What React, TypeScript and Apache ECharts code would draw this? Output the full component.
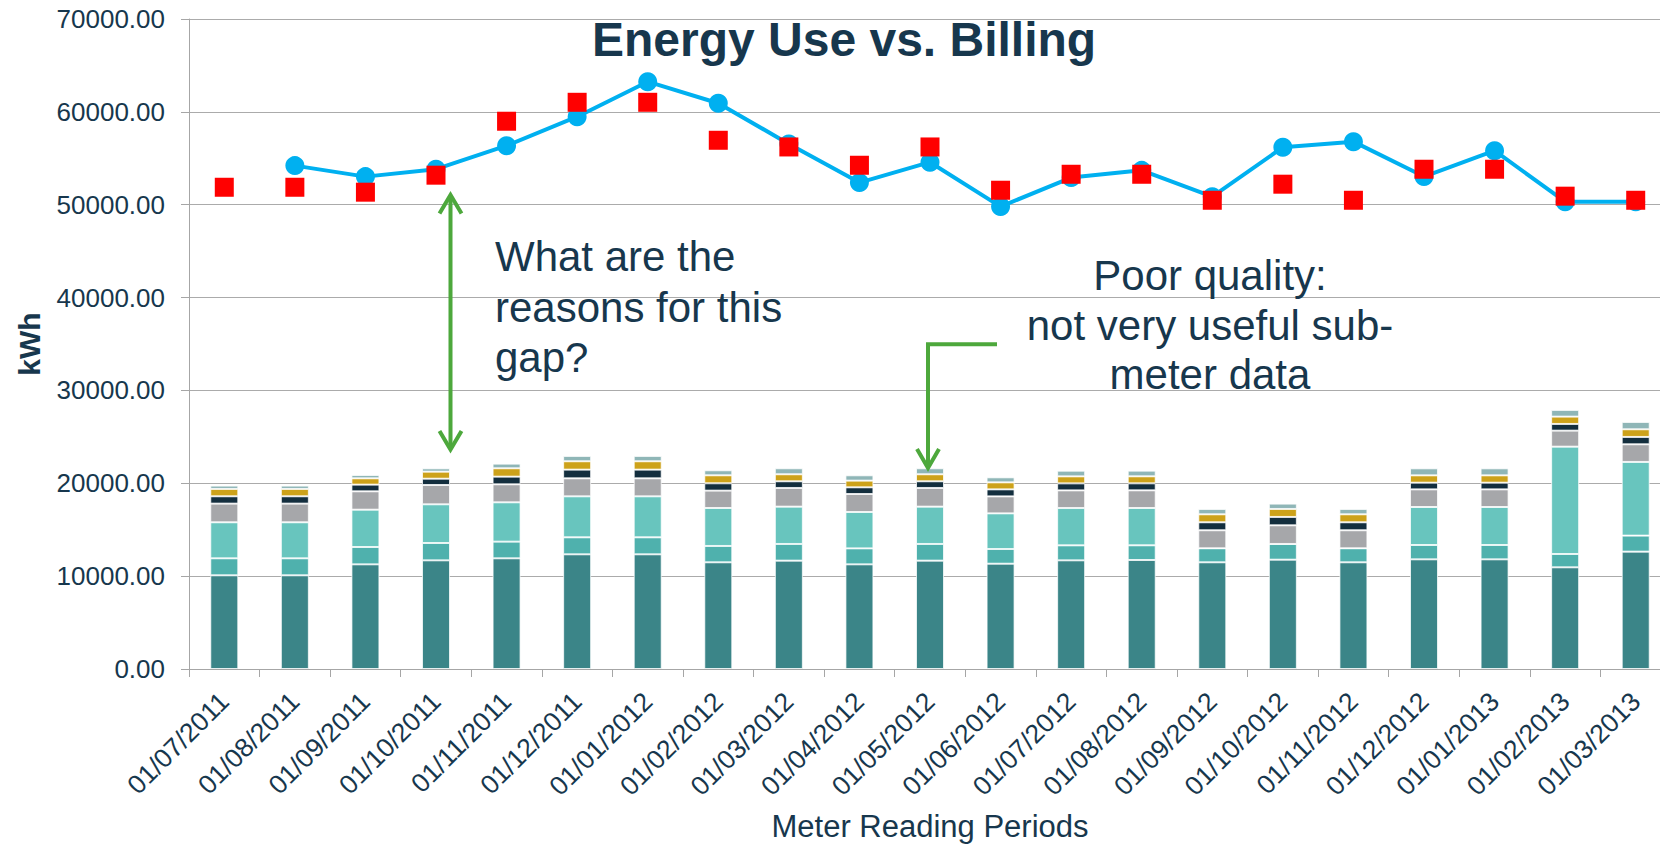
import React, { useEffect, useRef } from "react";
import * as echarts from "echarts";

const periods = [
  "01/07/2011", "01/08/2011", "01/09/2011", "01/10/2011", "01/11/2011", "01/12/2011",
  "01/01/2012", "01/02/2012", "01/03/2012", "01/04/2012", "01/05/2012", "01/06/2012",
  "01/07/2012", "01/08/2012", "01/09/2012", "01/10/2012", "01/11/2012", "01/12/2012",
  "01/01/2013", "01/02/2013", "01/03/2013",
];

const energyUse = [
  null, 54210, 53025, 53830, 56360, 59480, 63250, 60930, 56550, 52380, 54580,
  49800, 52920, 53700, 50870, 56190, 56790, 53030, 55820, 50330, 50330,
];

const billing = [
  51880, 51880, 51350, 53180, 58990, 61030, 61030, 56940, 56220, 54250, 56220,
  51560, 53280, 53280, 50480, 52210, 50480, 53820, 53820, 50920, 50480,
];

const sub1 = [10090, 10090, 11270, 11700, 11920, 12350, 12350, 11490, 11670, 11270, 11670, 11340, 11700, 11740, 11490, 11775, 11490, 11810, 11810, 10950, 12640];
const sub2 = [1830, 1830, 1870, 1870, 1795, 1830, 1830, 1760, 1795, 1720, 1795, 1580, 1615, 1580, 1510, 1690, 1510, 1545, 1545, 1435, 1725];
const sub3 = [3880, 3880, 4020, 4165, 4235, 4415, 4415, 4090, 4020, 3915, 4020, 3840, 4020, 4020, 0, 0, 0, 4090, 4090, 11560, 7935];
const sub4 = [2010, 2010, 1975, 2080, 1940, 1940, 1940, 1870, 2010, 1940, 2010, 1830, 1900, 1900, 1940, 2010, 1940, 1900, 1900, 1725, 1900];
const sub5 = [790, 790, 720, 680, 825, 935, 935, 790, 720, 720, 720, 755, 755, 755, 860, 900, 860, 720, 720, 720, 790];
const sub6 = [790, 790, 680, 755, 900, 900, 900, 860, 755, 720, 755, 755, 755, 755, 860, 860, 860, 790, 790, 790, 825];
const sub7 = [360, 360, 360, 360, 500, 575, 575, 540, 645, 575, 645, 540, 610, 610, 575, 575, 575, 755, 755, 720, 790];

const subNames = ["Sub-meter 1", "Sub-meter 2", "Sub-meter 3", "Sub-meter 4", "Sub-meter 5", "Sub-meter 6", "Sub-meter 7"];
const subColors = ["#3B8588", "#4FB1AD", "#68C5BE", "#A6A7AA", "#132E3E", "#CDA21A", "#8FB6B7"];

const yTicks = { min: 0, max: 70000, interval: 10000 };

const FONT = "'Liberation Sans', Arial, sans-serif";
const TEXT = "#17374D";
const GREEN = "#4DA83C";
const GRIDC = "#ABABAB";

export default function App() {
  const ref = useRef<HTMLDivElement>(null);

  useEffect(() => {
    if (!ref.current) return;
    const chart = echarts.init(ref.current, null, { renderer: "svg" });
    const subs = [sub1, sub2, sub3, sub4, sub5, sub6, sub7];

    const barSeries = subs.map((d, i) => ({
      name: subNames[i],
      type: "bar",
      stack: "sub",
      barWidth: 28,
      data: d,
      itemStyle: { color: subColors[i], borderColor: "rgba(255,255,255,0.75)", borderWidth: 1 },
    }));

    const annot = (text: string, x: number, baseline: number, align: string) => ({
      type: "text",
      z: 100,
      x,
      y: baseline - 14.7,
      style: { text, fill: TEXT, font: `42px ${FONT}`, align, verticalAlign: "middle" },
    });

    const arrowStyle = { stroke: GREEN, lineWidth: 4, fill: "none" };

    chart.setOption({
      animation: false,
      backgroundColor: "#ffffff",
      textStyle: { fontFamily: FONT },
      title: {
        text: "Energy Use vs. Billing",
        left: 592,
        top: 15,
        padding: 0,
        textStyle: { fontFamily: FONT, fontSize: 48, fontWeight: "bold", color: TEXT, lineHeight: 48 },
      },
      grid: { left: 189, top: 19, width: 1482, height: 650, outerBoundsMode: "none", containLabel: false },
      xAxis: {
        type: "category",
        data: periods,
        name: "Meter Reading Periods",
        nameLocation: "middle",
        nameGap: 142,
        nameTextStyle: { fontFamily: FONT, fontSize: 31, color: TEXT, lineHeight: 31 },
        axisLine: { show: true, lineStyle: { color: "#A6A6A6", width: 1 } },
        axisTick: { show: true, length: 8, lineStyle: { color: "#A6A6A6" } },
        axisLabel: { rotate: 45, margin: 28, fontSize: 26.5, color: TEXT, fontFamily: FONT, interval: 0 },
      },
      yAxis: {
        type: "value",
        min: yTicks.min,
        max: yTicks.max,
        interval: yTicks.interval,
        name: "kWh",
        nameLocation: "middle",
        nameGap: 145,
        nameTextStyle: { fontFamily: FONT, fontSize: 30, fontWeight: "bold", color: TEXT, lineHeight: 30 },
        axisLine: { show: true, lineStyle: { color: "#A6A6A6", width: 1 } },
        axisTick: { show: true, length: 8, lineStyle: { color: "#A6A6A6" } },
        axisLabel: {
          margin: 24,
          fontSize: 26,
          color: TEXT,
          fontFamily: FONT,
          formatter: (v: number) => v.toFixed(2),
        },
        splitLine: { show: true, lineStyle: { color: GRIDC, width: 1 } },
      },
      series: [
        ...barSeries,
        {
          name: "Energy use",
          type: "line",
          data: energyUse,
          symbol: "circle",
          symbolSize: 19,
          showSymbol: true,
          itemStyle: { color: "#00B0F0", opacity: 1 },
          lineStyle: { color: "#00B0F0", width: 4 },
          z: 5,
        },
        {
          name: "Billing",
          type: "scatter",
          data: billing,
          symbol: "rect",
          symbolSize: 19,
          itemStyle: { color: "#FF0000", opacity: 1 },
          z: 6,
        },
      ],
      graphic: [
        annot("What are the", 495, 271, "left"),
        annot("reasons for this", 495, 321.7, "left"),
        annot("gap?", 495, 372, "left"),
        annot("Poor quality:", 1210, 290, "center"),
        annot("not very useful sub-", 1210, 340, "center"),
        annot("meter data", 1210, 389.3, "center"),
        { type: "line", z: 100, shape: { x1: 450.5, y1: 196, x2: 450.5, y2: 449 }, style: arrowStyle },
        { type: "polyline", z: 100, shape: { points: [[439.5, 213.5], [450.5, 195], [461.5, 213.5]] }, style: arrowStyle },
        { type: "polyline", z: 100, shape: { points: [[439.5, 431], [450.5, 449.5], [461.5, 431]] }, style: arrowStyle },
        { type: "polyline", z: 100, shape: { points: [[997, 344.3], [928, 344.3], [928, 467]] }, style: arrowStyle },
        { type: "polyline", z: 100, shape: { points: [[917, 449], [928, 468], [939, 449]] }, style: arrowStyle },
      ],
    });

    return () => chart.dispose();
  }, []);

  return (
    <div
      ref={ref}
      style={{ position: "fixed", left: 0, top: 0, width: 1660, height: 847, background: "#fff" }}
    />
  );
}
